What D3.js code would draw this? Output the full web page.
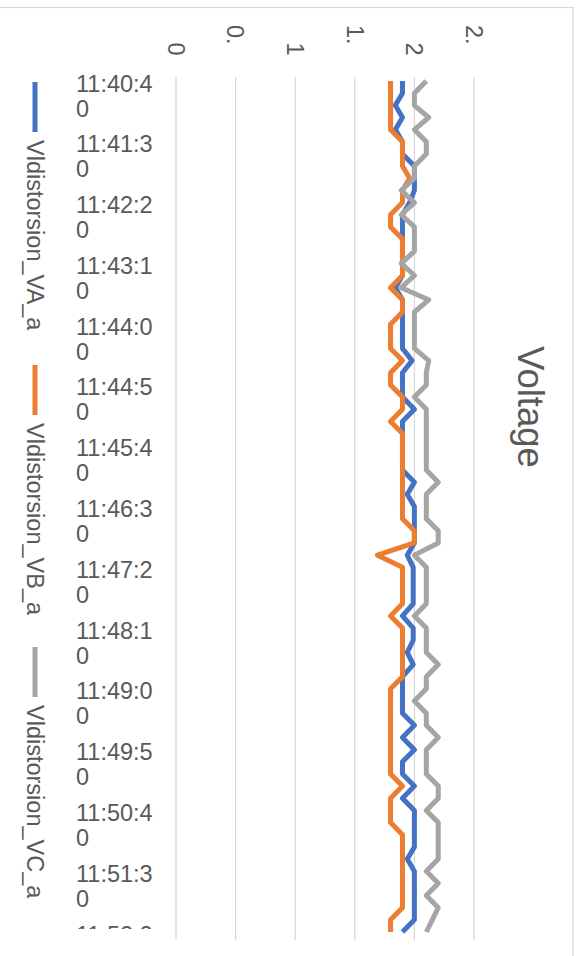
<!DOCTYPE html>
<html>
<head>
<meta charset="utf-8">
<script src="https://cdn.jsdelivr.net/npm/d3@7"></script>
<style>
  html, body { margin: 0; padding: 0; background: #fff; }
  svg { display: block; font-family: "Liberation Sans", Arial, sans-serif; }
</style>
</head>
<body>
<svg id="chart" width="581" height="956"></svg>
<script>
// Sample times (10 s apart)
const times = [
  "11:40:40","11:40:50","11:41:00","11:41:10","11:41:20","11:41:30","11:41:40","11:41:50",
  "11:42:00","11:42:10","11:42:20","11:42:30","11:42:40","11:42:50","11:43:00","11:43:10",
  "11:43:20","11:43:30","11:43:40","11:43:50","11:44:00","11:44:10","11:44:20","11:44:30",
  "11:44:40","11:44:50","11:45:00","11:45:10","11:45:20","11:45:30","11:45:40","11:45:50",
  "11:46:00","11:46:10","11:46:20","11:46:30","11:46:40","11:46:50","11:47:00","11:47:10",
  "11:47:20","11:47:30","11:47:40","11:47:50","11:48:00","11:48:10","11:48:20","11:48:30",
  "11:48:40","11:48:50","11:49:00","11:49:10","11:49:20","11:49:30","11:49:40","11:49:50",
  "11:50:00","11:50:10","11:50:20","11:50:30","11:50:40","11:50:50","11:51:00","11:51:10",
  "11:51:20","11:51:30","11:51:40","11:51:50","11:52:00","11:52:10","11:52:20"
];

const vaValues = [
  1.9,1.9,1.84,1.9,1.84,1.9,1.9,2.0,2.0,2.0,
  1.96,1.9,1.9,1.9,1.9,1.9,1.9,1.84,1.9,1.9,
  1.9,1.9,1.9,1.98,1.9,1.9,1.9,2.0,1.9,1.9,
  1.9,1.9,1.9,2.0,1.94,2.0,2.0,2.0,2.0,1.94,
  1.99,1.99,1.99,1.99,1.9,1.99,1.99,1.94,1.99,1.9,
  1.9,1.9,1.9,2.0,1.9,2.0,1.9,1.9,2.0,1.9,
  2.0,2.0,2.0,2.0,1.94,2.0,2.0,2.0,2.0,2.0,
  1.9
];

const vbValues = [
  1.8,1.8,1.8,1.8,1.8,1.9,1.9,1.9,1.96,1.9,
  1.9,1.8,1.8,1.9,1.9,1.9,1.9,1.8,1.9,1.9,
  1.8,1.8,1.8,1.9,1.8,1.8,1.9,1.9,1.8,1.9,
  1.9,1.9,1.9,1.9,1.9,1.9,1.9,2.0,2.0,1.69,
  1.9,1.9,1.9,1.9,1.8,1.9,1.9,1.9,1.9,1.9,
  1.8,1.8,1.8,1.8,1.8,1.8,1.8,1.8,1.9,1.8,
  1.8,1.8,1.9,1.9,1.9,1.9,1.9,1.9,1.9,1.8,
  1.8
];

const vcValues = [
  2.1,2.0,2.0,2.12,2.0,2.1,2.1,2.0,2.0,1.89,
  2.0,1.89,2.0,2.0,2.0,1.89,2.0,1.89,2.12,2.0,
  2.0,2.0,2.0,2.12,2.1,2.1,2.0,2.1,2.1,2.1,
  2.1,2.1,2.1,2.2,2.1,2.1,2.1,2.2,2.2,2.0,
  2.1,2.1,2.1,2.1,2.0,2.1,2.1,2.1,2.2,2.1,
  2.1,2.0,2.1,2.1,2.2,2.1,2.1,2.1,2.2,2.2,
  2.1,2.2,2.2,2.2,2.2,2.1,2.2,2.1,2.2,2.15,
  2.1
];

const seriesNames = ["Vldistorsion_VA_a", "Vldistorsion_VB_a", "Vldistorsion_VC_a"];
const seriesColors = ["#4472C4", "#ED7D31", "#A5A5A5"];

const valueTicks = [0, 0.5, 1, 1.5, 2, 2.5];
const valueTickLabels = ["0", "0.", "1", "1.", "2", "2."];
const labelEvery = 5;
const chartTitle = "Voltage";

const series = [vaValues, vbValues, vcValues].map((vals, i) => ({
  name: seriesNames[i],
  color: seriesColors[i],
  points: vals.map((v, j) => ({ t: times[j], v }))
}));

const svg = d3.select("#chart");
const textColor = "#595959";
const fontSize = 23.5;

// Chart frame
svg.append("rect")
  .attr("x", -5).attr("y", 7.5)
  .attr("width", 578).attr("height", 960)
  .attr("fill", "#fff")
  .attr("stroke", "#D9D9D9").attr("stroke-width", 1.2);

// The chart is laid out turned a quarter turn: values run left to right,
// time runs top to bottom.
const x = d3.scaleLinear().domain([0, 2.5]).range([176, 474]);
const y = d3.scalePoint().domain(times).range([81, 932]);

const plotTop = 77, plotBottom = 940;

// Gridlines
svg.append("g").selectAll("line")
  .data(valueTicks)
  .join("line")
  .attr("x1", d => x(d)).attr("x2", d => x(d))
  .attr("y1", plotTop).attr("y2", plotBottom)
  .attr("stroke", "#D9D9D9").attr("stroke-width", 1.3);

// Value labels, turned with the chart, alternating depth
svg.append("g").selectAll("text")
  .data(valueTicks)
  .join("text")
  .attr("transform", (d, i) => `translate(${x(d) - 8.3},${i % 2 ? 25 : 42.5}) rotate(90)`)
  .attr("fill", textColor)
  .attr("font-size", fontSize)
  .text((d, i) => valueTickLabels[i]);

// Time labels (every 5th sample, wrapped after 7 characters)
const shown = times.filter((t, i) => i % labelEvery === 0);
const tl = svg.append("g").selectAll("text")
  .data(shown)
  .join("text")
  .attr("x", 76)
  .attr("y", d => y(d) + 10.5)
  .attr("fill", textColor)
  .attr("font-size", fontSize);
tl.append("tspan").attr("x", 76).text(d => d.slice(0, 7));
tl.append("tspan").attr("x", 76).attr("dy", 25).text(d => d.slice(7));

// Labels stop at the bottom of the plot
svg.append("defs").append("clipPath").attr("id", "labelClip")
  .append("rect").attr("x", 0).attr("y", 0).attr("width", 581).attr("height", 929);
tl.attr("clip-path", "url(#labelClip)");

// Series lines
const line = d3.line()
  .x(d => x(d.v))
  .y(d => y(d.t));

svg.append("g").selectAll("path")
  .data(series)
  .join("path")
  .attr("d", d => line(d.points))
  .attr("fill", "none")
  .attr("stroke", d => d.color)
  .attr("stroke-width", 5)
  .attr("stroke-linejoin", "round");

// Title
svg.append("text")
  .attr("transform", "translate(518,407) rotate(90)")
  .attr("text-anchor", "middle")
  .attr("fill", textColor)
  .attr("font-size", 36.5)
  .text(chartTitle);

// Legend
const legendStarts = [82, 365, 647];
const lg = svg.append("g").selectAll("g")
  .data(series)
  .join("g");
lg.append("line")
  .attr("x1", 35).attr("x2", 35)
  .attr("y1", (d, i) => legendStarts[i])
  .attr("y2", (d, i) => legendStarts[i] + 50)
  .attr("stroke", d => d.color)
  .attr("stroke-width", 5);
lg.append("text")
  .attr("transform", (d, i) => `translate(26.5,${legendStarts[i] + 58}) rotate(90)`)
  .attr("fill", textColor)
  .attr("font-size", fontSize)
  .text(d => d.name);
</script>
</body>
</html>
